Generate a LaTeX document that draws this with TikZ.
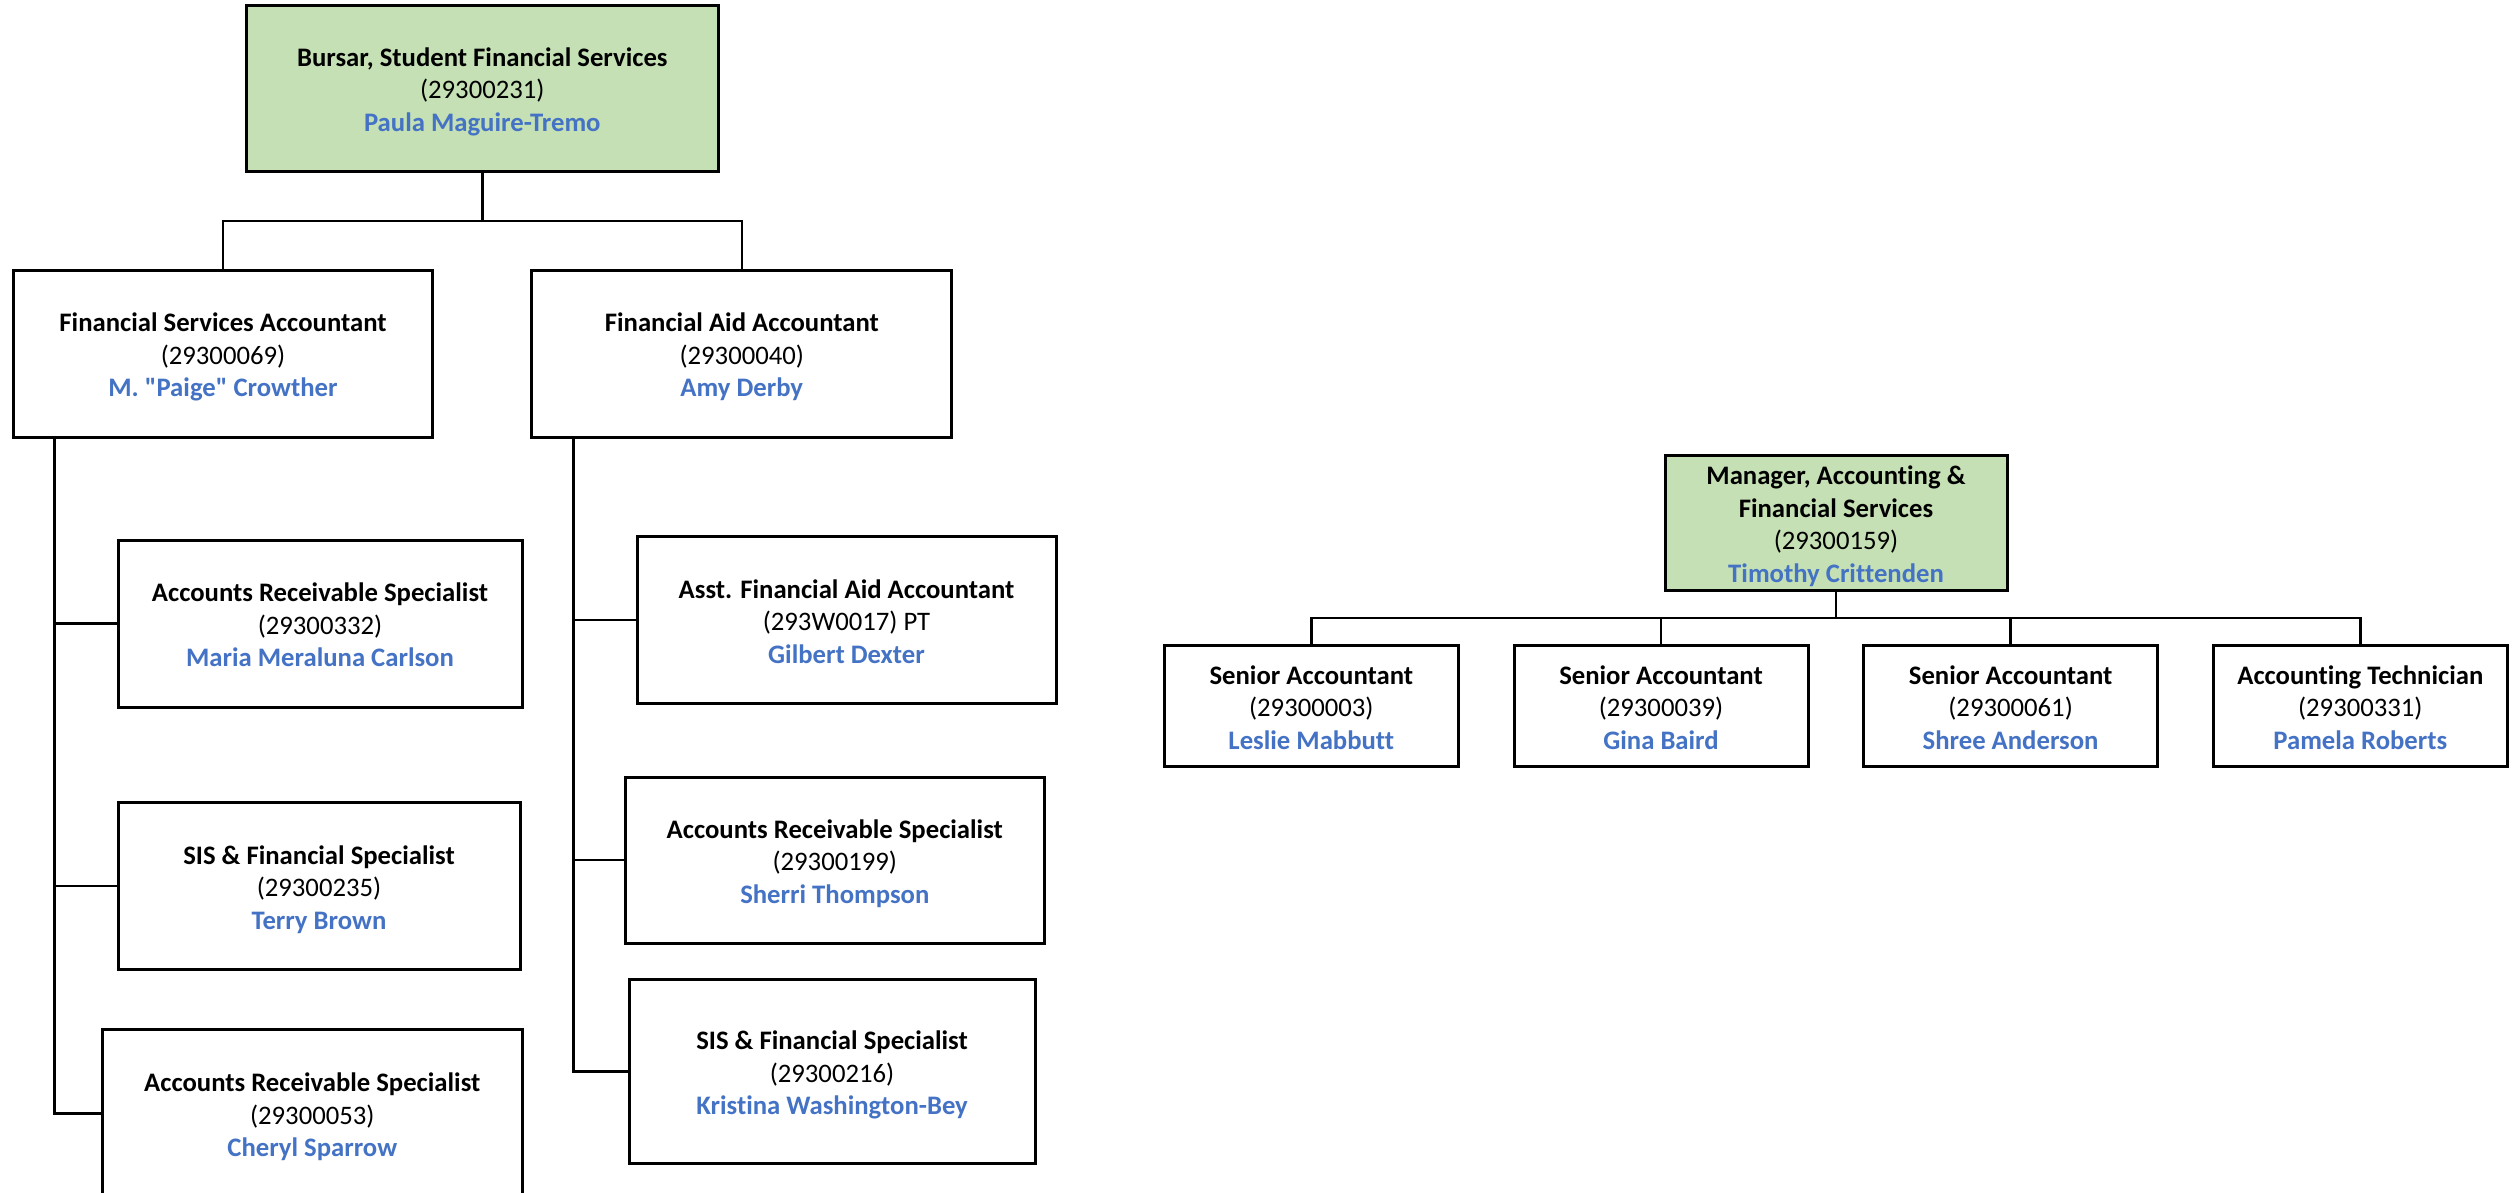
\documentclass[tikz,border=0pt]{standalone}
\usepackage{fontspec}
\setmainfont{Carlito}[Ligatures=NoCommon]
\usetikzlibrary{positioning}
\definecolor{boxgreen}{HTML}{C5E0B4}
\definecolor{nameblue}{HTML}{4472C4}
\newcommand{\topstrut}{\rule{0pt}{1.0em}}
\newcommand{\botstrut}{\rule[-0.2em]{0pt}{0.2em}}
\newcommand{\orgtext}[3]{\topstrut\textbf{#1}\\#2\\\textcolor{nameblue}{\textbf{#3}}\botstrut}
\tikzset{
  orgbox/.style={draw=black, line width=3pt, fill=white, align=center, inner sep=0pt,
    font=\fontsize{26.7}{32.6}\selectfont},
  headbox/.style={orgbox, fill=boxgreen},
  link/.style={draw=black, line width=2.6pt},
}
\begin{document}
\begin{tikzpicture}[x=1pt,y=-1pt]
\useasboundingbox (0,0) rectangle (2513,1192);
% left chart
\node[headbox, minimum width=472pt, minimum height=166pt] (bursar) at (482.3,88)
  {\orgtext{Bursar, Student Financial Services}{(29300231)}{Paula Maguire-Tremo}};
\node[orgbox, minimum width=419pt, minimum height=167pt] (fsa) at (223,353.7)
  {\orgtext{Financial Services Accountant}{(29300069)}{M. \textquotedbl Paige\textquotedbl\ Crowther}};
\node[orgbox, minimum width=420pt, minimum height=167pt] (faa) at (741.8,353.7)
  {\orgtext{Financial Aid Accountant}{(29300040)}{Amy Derby}};
\node[orgbox, minimum width=404pt, minimum height=167pt] (ars1) at (320,623.5)
  {\orgtext{Accounts Receivable Specialist}{(29300332)}{Maria Meraluna Carlson}};
\node[orgbox, minimum width=402pt, minimum height=167pt] (sis1) at (319,886)
  {\orgtext{SIS \& Financial Specialist}{(29300235)}{Terry Brown}};
\node[orgbox, minimum width=420pt, minimum height=169pt] (ars2) at (312.3,1113.7)
  {\orgtext{Accounts Receivable Specialist}{(29300053)}{Cheryl Sparrow}};
\node[orgbox, minimum width=419pt, minimum height=167pt] (afaa) at (846.5,620)
  {\orgtext{Asst. Financial Aid Accountant}{(293W0017) PT}{Gilbert Dexter}};
\node[orgbox, minimum width=419.5pt, minimum height=166pt] (ars3) at (834.8,860)
  {\orgtext{Accounts Receivable Specialist}{(29300199)}{Sherri Thompson}};
\node[orgbox, minimum width=406pt, minimum height=183.5pt] (sis2) at (832,1071.7)
  {\orgtext{SIS \& Financial Specialist}{(29300216)}{Kristina Washington-Bey}};
\coordinate (j1) at (482.3,220.8);
\coordinate (lt) at (54.5,1113.7);
\coordinate (rt) at (573.6,1071.7);
\draw[link] (bursar.south) -- (j1);
\draw[link] (fsa.north) |- (j1) -| (faa.north);
\draw[link] (fsa.south -| lt) |- (ars2.west);
\draw[link] (ars1.west) -- (ars1.west -| lt);
\draw[link] (sis1.west) -- (sis1.west -| lt);
\draw[link] (faa.south -| rt) |- (sis2.west);
\draw[link] (afaa.west) -- (afaa.west -| rt);
\draw[link] (ars3.west) -- (ars3.west -| rt);
% right chart
\node[headbox, minimum width=342pt, minimum height=135pt] (mgr) at (1836,523)
  {\topstrut\textbf{Manager, Accounting \&}\\\textbf{Financial Services}\\(29300159)\\\textcolor{nameblue}{\textbf{Timothy Crittenden}}\botstrut};
\node[orgbox, minimum width=294pt, minimum height=120.5pt] (sa1) at (1311.3,706)
  {\orgtext{Senior Accountant}{(29300003)}{Leslie Mabbutt}};
\node[orgbox, minimum width=294pt, minimum height=120.5pt] (sa2) at (1661,706)
  {\orgtext{Senior Accountant}{(29300039)}{Gina Baird}};
\node[orgbox, minimum width=294pt, minimum height=120.5pt] (sa3) at (2010.6,706)
  {\orgtext{Senior Accountant}{(29300061)}{Shree Anderson}};
\node[orgbox, minimum width=294pt, minimum height=120.5pt] (at) at (2360.3,706)
  {\orgtext{Accounting Technician}{(29300331)}{Pamela Roberts}};
\coordinate (j2) at (1836,618);
\draw[link] (mgr.south) -- (j2);
\draw[link] (sa1.north) |- (j2) -| (at.north);
\draw[link] (sa2.north) -- (sa2.north |- j2);
\draw[link] (sa3.north) -- (sa3.north |- j2);
\end{tikzpicture}
\end{document}
